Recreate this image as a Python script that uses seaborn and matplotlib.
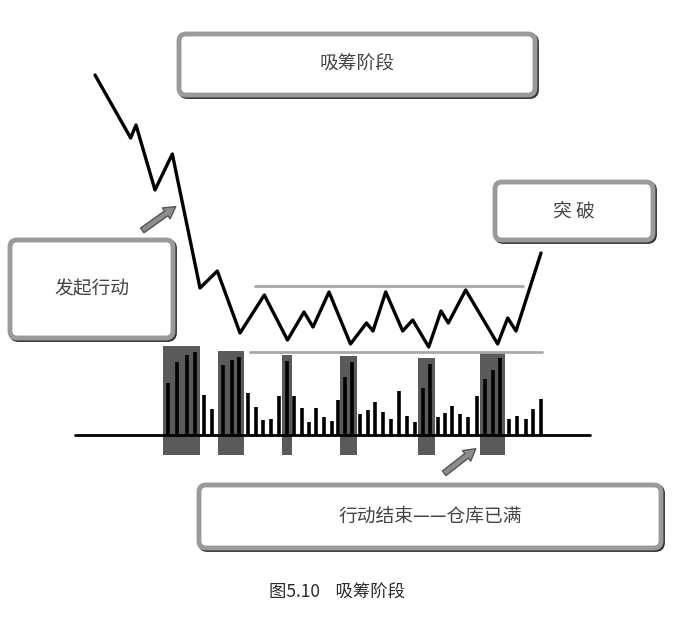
import numpy as np
import pandas as pd
import matplotlib
matplotlib.use("Agg")
import matplotlib.pyplot as plt
from matplotlib.patches import FancyBboxPatch, Rectangle
import seaborn as sns

# 价格走势 (时间, 价格)
price_t = [95, 130.7, 136, 155, 172.3, 200, 217.3, 240, 264.3, 287.5, 304, 313,
           329, 350.5, 366.5, 373, 385.7, 402.7, 412.7, 428.7, 441, 448.3,
           465.7, 497.7, 507.7, 516, 541]
price_v = [360, 297, 310, 245, 281, 147, 164, 102, 140, 95, 123, 108,
           143, 91, 112, 104, 143, 104, 115, 88, 124, 112,
           145, 91, 117, 104, 182]

# 成交量 (时间, 量)
vol_t = [168.3, 176.7, 186.7, 195, 204, 211.7, 223.3, 231.7, 239.3, 247.7,
         256, 263.3, 270.7, 279.3, 286.7, 294.3, 301.7, 309, 316, 324,
         331.7, 338.3, 345, 351.7, 360, 368, 375, 383, 391, 399,
         406.7, 415, 422.7, 430, 437.7, 445, 452.3, 460, 468.3, 476.7,
         485, 492.7, 500, 509, 516.7, 525.7, 533.3, 540.7]
volume = [52, 73, 80, 83, 40, 26, 70, 75, 78, 42, 28, 15, 16, 39, 74, 39, 27, 13,
          27, 18, 14, 35, 58, 73, 21, 25, 33, 23, 16, 44, 19, 13, 47, 71, 18, 22,
          29, 21, 18, 39, 56, 65, 77, 16, 19, 16, 26, 36]

# 放量区 (起止序号)
high_vol = [(0, 3), (6, 8), (14, 14), (22, 23), (32, 33), (40, 42)]

# 区间上下沿
resist = (255, 523, 149)
support = (250, 542, 83)

labels = ["吸筹阶段", "发起行动", "突 破", "行动结束——仓库已满"]
caption = "图5.10    吸筹阶段"

sns.set_theme(style="white")
plt.rcParams['font.family'] = ['Noto Sans CJK SC', 'DejaVu Sans']

fig = plt.figure(figsize=(6.74, 6.18), dpi=100)
ax = fig.add_axes([0, 0, 1, 1])
ax.axis("off")

# 放量灰块
for a, b in high_vol:
    top = max(volume[a:b + 1]) + 6
    ax.add_patch(Rectangle((vol_t[a] - 5, -20), vol_t[b] - vol_t[a] + 10, top + 20,
                           fc="#5a5a5a", ec="none", zorder=1))

ax.vlines(vol_t, 0, volume, color="black", lw=2.6, zorder=2)
ax.plot([75, 590], [0, 0], color="black", lw=2, zorder=3)

# 区间线
ax.plot(resist[:2], [resist[2]] * 2, color="#a8a8a8", lw=2, zorder=2)
ax.plot(support[:2], [support[2]] * 2, color="#a8a8a8", lw=2, zorder=2)

df = pd.DataFrame({"t": price_t, "price": price_v})
sns.lineplot(data=df, x="t", y="price", ax=ax, color="black", lw=2.4,
             sort=False, zorder=4)
ax.set_xlim(0, 674)
ax.set_ylim(-183, 435)


def box(x0, y0, x1, y1, text):
    ax.add_patch(FancyBboxPatch((x0 + 1.5, y0 - 1.5), x1 - x0, y1 - y0,
                                boxstyle="round,pad=0,rounding_size=7",
                                fc="none", ec="#333333", lw=3.5, zorder=5))
    ax.add_patch(FancyBboxPatch((x0, y0), x1 - x0, y1 - y0,
                                boxstyle="round,pad=0,rounding_size=7",
                                fc="white", ec="#9a9a9a", lw=3.5, zorder=6))
    ax.text((x0 + x1) / 2, (y0 + y1) / 2, text, ha="center", va="center",
            fontsize=13.5, color="#444444", zorder=7)


box(179, 340, 535, 401, labels[0])
box(10, 97, 173, 195, labels[1])
box(495, 195, 653, 253, labels[2])
box(199, -113, 661, -50, labels[3])

# 箭头
for (x0, y0), (x1, y1) in [((140, 203), (178, 230)), ((442, -40), (478, -12))]:
    ax.annotate("", xy=(x1, y1), xytext=(x0, y0),
                arrowprops=dict(arrowstyle="simple,head_length=0.7,head_width=0.8,tail_width=0.35",
                                fc="#8c8c8c", ec="#555555", lw=1), zorder=8)

ax.text(337, -158, caption, ha="center", va="center", fontsize=12.5,
        color="#2a2a2a", fontweight="medium")

fig.savefig("out.png", dpi=100, facecolor="white")
